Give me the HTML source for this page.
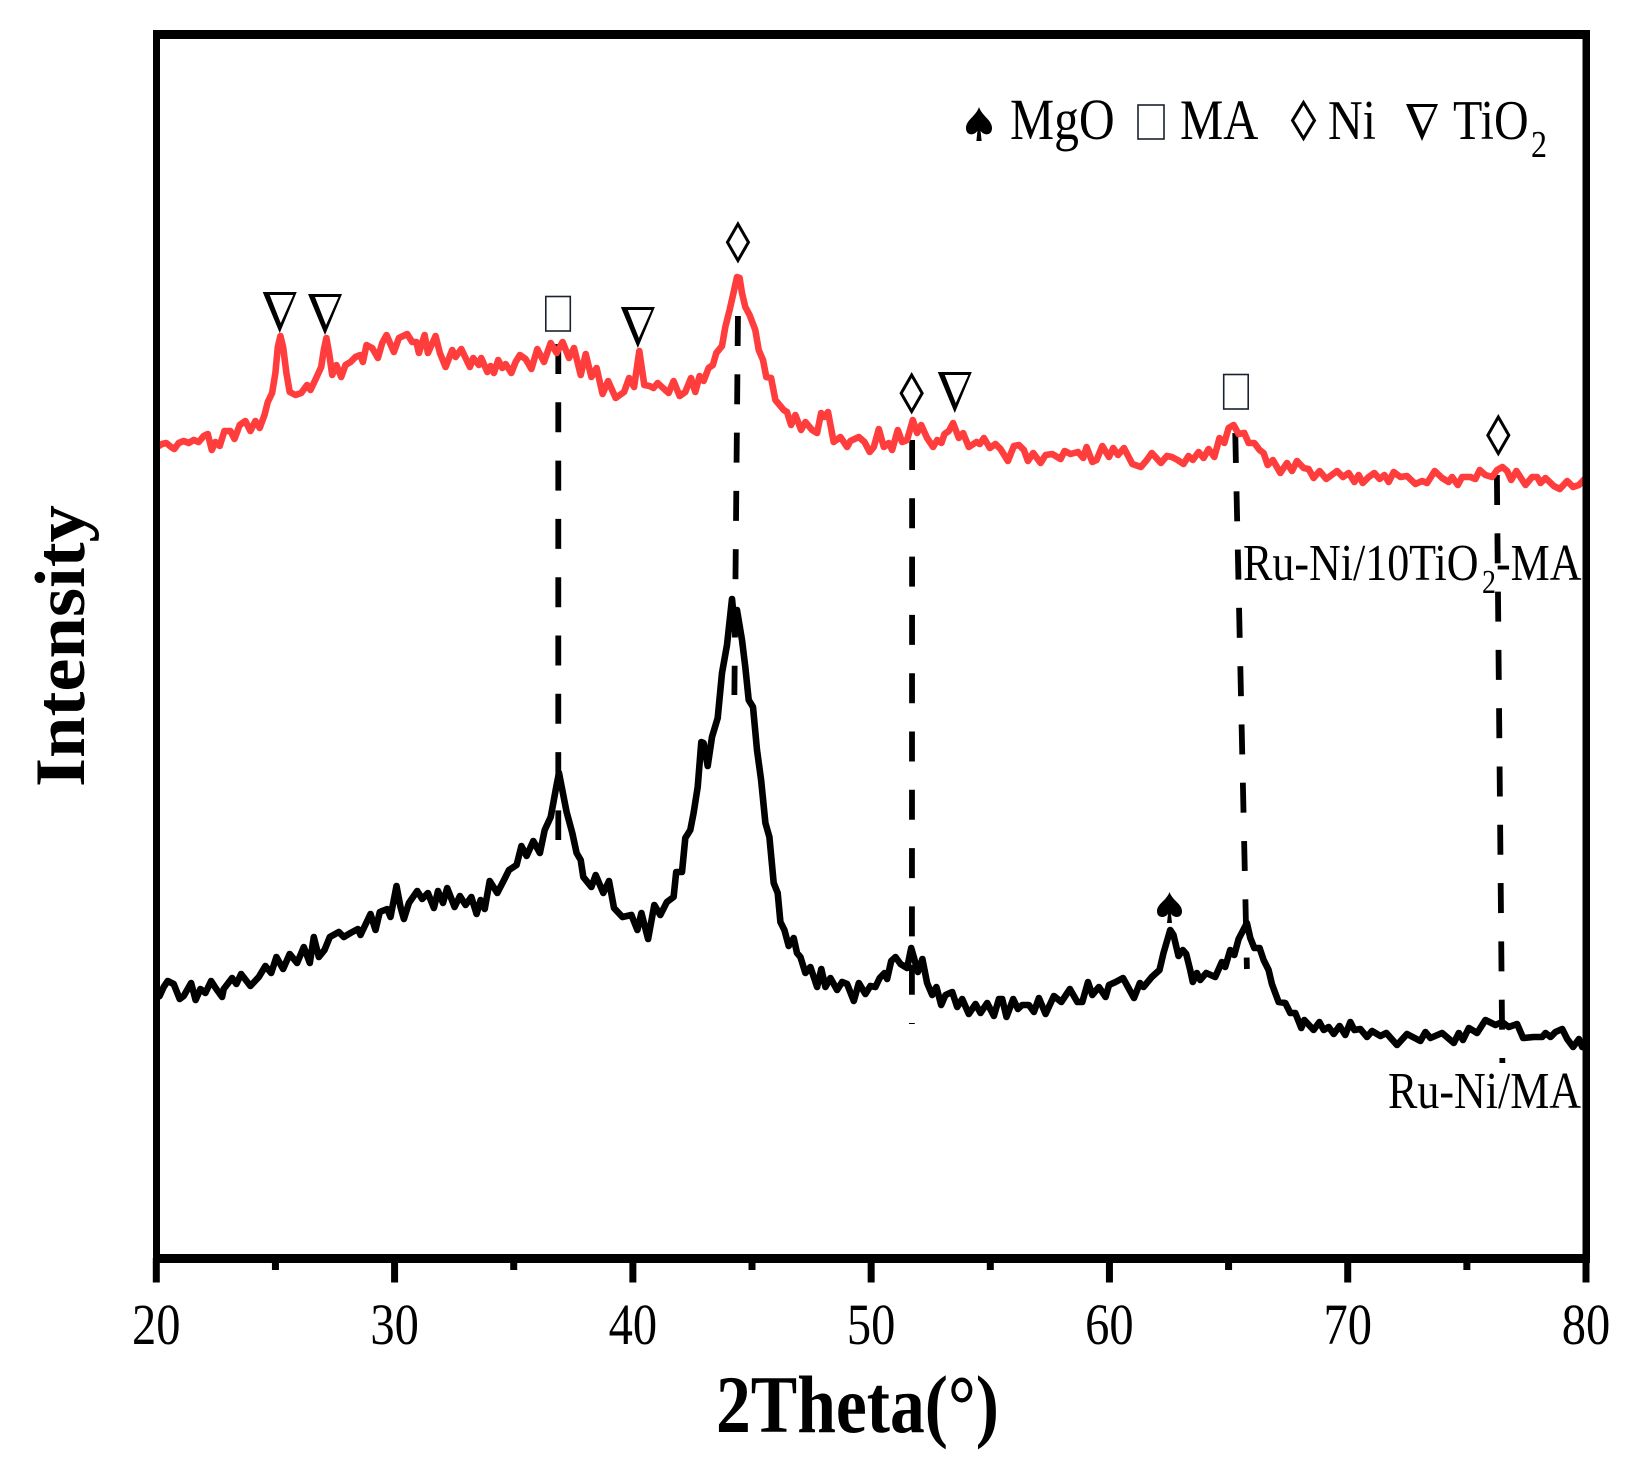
<!DOCTYPE html>
<html lang="en">
<head>
<meta charset="utf-8">
<title>XRD patterns of Ru-Ni/10TiO2-MA and Ru-Ni/MA</title>
<style>
html,body{margin:0;padding:0;background:#fff;}
svg{display:block;}
text{font-family:"Liberation Serif",serif;fill:#000;}
</style>
</head>
<body>
<svg id="chart" xmlns="http://www.w3.org/2000/svg" width="1641" height="1481" viewBox="0 0 1641 1481">
  <rect x="0" y="0" width="1641" height="1481" fill="#fff"/>
  <g id="peak-lines"></g>
  <g id="series"></g>
  <g id="markers"></g>
  <g id="frame">
    <rect x="153" y="30" width="1437" height="9" fill="#000"/>
    <rect x="153" y="30" width="7" height="1233" fill="#000"/>
    <rect x="1582.5" y="30" width="7.5" height="1233" fill="#000"/>
    <rect x="153" y="1254" width="1437" height="9" fill="#000"/>
  </g>
  <g id="ticks"></g>
  <g id="tick-labels"></g>

  <text transform="translate(716,1432) scale(1,1.17)" font-size="69.6" font-weight="bold">2Theta(°)</text>
  <text transform="translate(84,787) rotate(-90) scale(1,0.95)" font-size="74.6" font-weight="bold">Intensity</text>

  <g id="legend">
    <text transform="translate(1010,139) scale(1,1.17)" font-size="49.6">MgO</text>
    <text transform="translate(1180,139) scale(1,1.17)" font-size="48.6">MA</text>
    <text transform="translate(1328,139) scale(1,1.17)" font-size="48">Ni</text>
    <text transform="translate(1453,139) scale(1,1.17)" font-size="48">TiO</text>
    <text transform="translate(1531,157) scale(1,1.2)" font-size="32">2</text>
  </g>

  <g>
    <text transform="translate(1243,580) scale(1,1.17)" font-size="44">Ru-Ni/10TiO</text>
    <text transform="translate(1482,593) scale(1,1.2)" font-size="28">2</text>
    <text transform="translate(1496,580) scale(1,1.17)" font-size="44">-MA</text>
  </g>
  <text transform="translate(1388,1108) scale(1,1.17)" font-size="44">Ru-Ni/MA</text>
</svg>

<script>
// ---- data ----
const majorTickValues = [20, 30, 40, 50, 60, 70, 80];
const minorTickValues = [25, 35, 45, 55, 65, 75];

const redTheta = [20.00,20.03,20.24,20.42,20.62,20.76,20.94,21.15,21.36,21.57,21.78,21.99,22.16,22.33,22.48,22.66,22.86,23.11,23.28,23.50,23.74,23.95,24.16,24.34,24.54,24.68,24.86,25.00,25.10,25.21,25.32,25.46,25.60,25.84,26.08,26.33,26.47,26.71,26.92,27.03,27.14,27.25,27.38,27.56,27.76,27.94,28.15,28.36,28.57,28.67,28.82,29.06,29.30,29.48,29.66,29.97,30.18,30.53,30.74,30.91,31.02,31.26,31.40,31.72,31.90,32.14,32.42,32.56,32.80,33.16,33.30,33.54,33.64,33.89,34.03,34.17,34.35,34.52,34.66,34.90,35.08,35.26,35.50,35.74,35.99,36.27,36.55,36.80,37.05,37.32,37.53,37.81,38.02,38.26,38.48,38.73,38.96,39.28,39.63,39.84,40.05,40.27,40.48,40.70,40.87,41.04,41.22,41.50,41.71,41.96,42.20,42.44,42.62,42.80,42.97,43.18,43.36,43.50,43.74,43.88,44.06,44.23,44.37,44.48,44.58,44.72,44.90,45.14,45.28,45.46,45.60,45.80,45.98,46.33,46.47,46.64,46.82,47.06,47.24,47.52,47.73,47.90,48.04,48.19,48.43,48.71,48.99,49.13,49.48,49.72,49.94,50.11,50.32,50.53,50.74,50.88,51.12,51.30,51.51,51.75,51.93,52.10,52.35,52.60,52.77,52.95,53.08,53.26,53.44,53.68,53.86,54.10,54.42,54.56,54.73,54.98,55.22,55.43,55.74,55.99,56.20,56.41,56.58,56.80,57.11,57.32,57.60,57.95,58.12,58.37,58.68,58.90,59.04,59.28,59.46,59.70,59.98,60.16,60.36,60.61,60.96,61.32,61.57,61.78,62.16,62.41,62.62,62.86,63.11,63.32,63.50,63.74,63.95,64.16,64.40,64.62,64.82,65.00,65.21,65.42,65.66,65.84,66.08,66.30,66.47,66.64,66.86,67.17,67.45,67.66,67.87,68.15,68.36,68.57,68.82,69.10,69.55,69.80,70.04,70.28,70.46,70.63,70.88,71.12,71.34,71.54,71.72,71.93,72.21,72.49,72.84,73.12,73.33,73.65,73.96,74.24,74.38,74.62,74.80,75.15,75.36,75.54,75.78,76.06,76.27,76.49,76.69,76.86,77.08,77.46,77.74,77.95,78.09,78.30,78.65,78.90,79.21,79.46,79.70,79.94];
const redIntensity = [866,867,870,871,867,865,871,873,871,874,872,878,880,864,872,868,883,883,875,889,893,883,893,886,899,912,921,941,967,978,967,941,922,919,921,929,924,936,947,964,976,961,939,949,937,949,952,957,959,952,969,966,956,971,979,962,976,980,972,972,961,979,961,978,961,947,964,957,965,947,956,949,956,942,948,941,954,946,950,941,952,959,955,945,965,952,971,961,972,956,966,939,960,937,946,920,933,916,922,936,927,963,929,928,926,931,927,921,933,918,922,936,922,938,933,946,949,961,968,987,1004,1022,1037,1036,1021,1007,999,984,964,954,937,936,914,904,902,889,899,884,892,884,881,901,897,902,872,877,867,873,877,872,862,867,885,867,871,864,884,872,874,894,881,889,876,867,874,871,880,883,891,876,881,867,872,870,876,866,870,865,853,868,869,864,853,861,851,859,860,855,863,860,862,856,867,852,854,868,857,866,859,866,850,847,854,861,851,858,857,854,850,858,854,862,856,865,857,876,871,886,889,880,881,871,871,864,861,849,854,841,851,843,853,846,845,836,843,835,843,837,841,832,839,831,837,841,835,839,832,842,837,838,830,833,831,843,836,832,837,829,837,837,835,844,839,837,844,847,843,834,843,829,837,837,831,836,828,825,833,827,829,835];

const blackTheta = [20.00,20.14,20.31,20.48,20.73,20.98,21.15,21.46,21.65,21.85,22.06,22.30,22.52,22.76,22.83,23.18,23.36,23.56,23.95,24.30,24.58,24.82,25.04,25.32,25.60,25.91,26.19,26.44,26.61,26.82,27.06,27.28,27.66,27.87,28.15,28.46,28.57,28.99,29.20,29.38,29.69,29.83,30.08,30.25,30.39,30.60,30.95,31.16,31.40,31.65,31.82,32.03,32.21,32.52,32.74,32.98,33.22,33.44,33.61,33.78,33.99,34.31,34.59,34.80,35.12,35.32,35.54,35.82,36.10,36.30,36.55,36.66,36.80,36.90,37.04,37.22,37.46,37.64,37.81,37.92,38.26,38.44,38.76,39.00,39.21,39.56,39.94,40.19,40.36,40.64,40.90,41.15,41.43,41.71,41.82,42.06,42.20,42.41,42.55,42.72,42.87,42.97,43.14,43.32,43.56,43.74,43.95,44.16,44.30,44.37,44.58,44.72,44.86,45.04,45.21,45.38,45.56,45.73,45.91,46.08,46.19,46.36,46.54,46.75,46.89,47.03,47.24,47.45,47.73,47.91,48.08,48.29,48.57,48.78,48.99,49.27,49.48,49.76,49.97,50.18,50.36,50.56,50.67,50.84,51.02,51.23,51.51,51.68,51.79,51.96,52.15,52.35,52.56,52.74,52.94,53.12,53.40,53.61,53.82,54.10,54.38,54.59,54.87,55.15,55.36,55.50,55.68,55.96,56.16,56.34,56.62,56.83,57.04,57.32,57.67,57.98,58.34,58.65,58.86,59.10,59.28,59.56,59.84,59.98,60.26,60.57,61.03,61.28,61.43,61.78,62.10,62.27,62.55,62.69,62.90,63.08,63.22,63.39,63.50,63.67,63.81,64.06,64.44,64.72,64.86,65.07,65.24,65.42,65.77,65.91,66.08,66.30,66.47,66.68,66.82,67.10,67.38,67.59,67.80,68.05,68.18,68.57,68.81,68.99,69.20,69.41,69.66,69.90,70.11,70.28,70.53,70.81,71.02,71.37,71.62,72.07,72.49,73.05,73.26,73.47,73.96,74.45,74.66,74.84,75.08,75.43,75.78,76.20,76.48,76.76,77.11,77.36,77.81,78.16,78.30,78.51,78.72,79.00,79.21,79.46,79.70,79.84];
const blackIntensity = [316,318,327,333,330,315,318,331,314,325,321,333,325,317,325,336,330,340,328,337,348,341,357,345,360,351,367,351,377,357,364,377,382,377,381,385,379,400,384,402,405,397,428,407,395,411,423,415,421,406,423,411,426,407,418,409,417,400,414,405,433,421,434,444,449,468,458,473,461,484,497,511,529,541,524,502,481,461,454,437,427,439,421,433,406,397,399,384,401,375,409,399,412,417,442,442,476,484,501,527,572,571,548,577,596,641,669,715,681,704,674,647,614,607,564,534,491,477,431,421,392,384,368,376,361,357,341,347,327,345,327,336,324,332,330,313,331,320,328,327,336,341,335,353,357,350,346,366,357,342,355,331,319,327,309,319,322,307,315,300,310,301,311,298,315,315,297,315,305,309,309,302,316,300,318,312,325,312,312,332,319,327,317,329,332,336,316,331,327,337,344,361,384,379,358,364,360,344,332,341,334,341,337,352,347,364,359,375,391,376,366,366,354,344,330,312,311,301,301,286,294,284,292,284,287,280,288,279,292,284,285,277,283,278,281,269,280,273,282,276,281,271,281,274,286,281,294,289,292,287,290,276,277,277,281,277,282,285,275,267,275,267];

// guide lines: start/end 2-theta and start/end intensity
const guideThetaStart = [36.87, 44.41, 51.72, 65.28, 76.26];
const guideThetaEnd = [36.87, 44.26, 51.71, 65.77, 76.49];
const guideIntensityStart = [970, 998, 874, 881, 839];
const guideIntensityEnd = [474, 619, 290, 345, 251];

// phase markers: kind, 2-theta of centre, intensity of lower edge
const markerKinds = ['triangle','triangle','square','triangle','diamond','diamond','triangle','square','diamond','spade'];
const markerTheta = [25.18, 27.08, 36.86, 40.21, 44.41, 51.70, 53.51, 65.31, 76.32, 62.52];
const markerIntensity = [981, 979, 983, 966, 1052, 901, 901, 905, 859, 391];

// ---- scales ----
const X0 = 156.3, X1 = 1586, Y0 = 1258, Y1 = 34;
const domainX = [20, 80], domainY = [56, 1280];
function xScale(v) { return X0 + (v - domainX[0]) / (domainX[1] - domainX[0]) * (X1 - X0); }
function yScale(v) { return Y0 + (v - domainY[0]) / (domainY[1] - domainY[0]) * (Y1 - Y0); }

const NS = 'http://www.w3.org/2000/svg';
function make(tag, parentId) {
  const el = document.createElementNS(NS, tag);
  document.getElementById(parentId).appendChild(el);
  return el;
}
function linePath(xs, ys) {
  return xs.map(function (x, i) {
    return (i ? 'L' : 'M') + xScale(x).toFixed(1) + ' ' + yScale(ys[i]).toFixed(1);
  }).join('');
}

// guide lines
guideThetaStart.forEach(function (t, i) {
  const ln = make('line', 'peak-lines');
  
  
  ln.setAttribute('x1', xScale(t));
  ln.setAttribute('x2', xScale(guideThetaEnd[i]));
  ln.setAttribute('y1', yScale(guideIntensityStart[i]));
  ln.setAttribute('y2', yScale(guideIntensityEnd[i]));
  ln.setAttribute('stroke', '#000');
  ln.setAttribute('stroke-width', '5.8');
  ln.setAttribute('stroke-dasharray', '30 28.3');
});

// series
const redLine = make('path', 'series');


redLine.setAttribute('d', linePath(redTheta, redIntensity));
redLine.setAttribute('fill', 'none');
redLine.setAttribute('stroke', '#ff3d3d');
redLine.setAttribute('stroke-width', '6.6');
redLine.setAttribute('stroke-linejoin', 'round');
redLine.setAttribute('stroke-linecap', 'round');

const blackLine = make('path', 'series');


blackLine.setAttribute('d', linePath(blackTheta, blackIntensity));
blackLine.setAttribute('fill', 'none');
blackLine.setAttribute('stroke', '#000');
blackLine.setAttribute('stroke-width', '6.6');
blackLine.setAttribute('stroke-linejoin', 'round');
blackLine.setAttribute('stroke-linecap', 'round');

// ticks
majorTickValues.forEach(function (v) {
  const t = make('rect', 'ticks');
  
  
  t.setAttribute('x', xScale(v) - 3.5);
  t.setAttribute('y', 1258);
  t.setAttribute('width', 7);
  t.setAttribute('height', 24.5);
  t.setAttribute('fill', '#000');
  const lab = make('text', 'tick-labels');
  
  
  lab.setAttribute('transform', 'translate(' + xScale(v) + ',1344) scale(1,1.2)');
  lab.setAttribute('text-anchor', 'middle');
  lab.setAttribute('font-size', '48.5');
  lab.textContent = String(v);
});
minorTickValues.forEach(function (v) {
  const t = make('rect', 'ticks');
  
  
  t.setAttribute('x', xScale(v) - 3.5);
  t.setAttribute('y', 1258);
  t.setAttribute('width', 7);
  t.setAttribute('height', 12);
  t.setAttribute('fill', '#000');
});

// marker shapes
function drawMarker(parentId, kind, cx, bottom, w, h) {
  const top = bottom - h, l = cx - w / 2, r = cx + w / 2;
  if (kind === 'triangle') {
    const p = make('path', parentId);
    
    
    p.setAttribute('fill-rule', 'evenodd');
    p.setAttribute('fill', '#000');
    p.setAttribute('d', 'M' + l + ' ' + top + 'L' + r + ' ' + top + 'L' + cx + ' ' + bottom + 'Z' +
      'M' + (l + 7) + ' ' + (top + 3) + 'L' + (r - 3.5) + ' ' + (top + 3) + 'L' + (cx + 1) + ' ' + (bottom - 10) + 'Z');
  } else if (kind === 'square') {
    const s = make('rect', parentId);
    
    
    s.setAttribute('x', l);
    s.setAttribute('y', top);
    s.setAttribute('width', w);
    s.setAttribute('height', h);
    s.setAttribute('fill', '#fff');
    s.setAttribute('stroke', '#1a2230');
    s.setAttribute('stroke-width', '1.6');
  } else if (kind === 'diamond') {
    const d = make('polygon', parentId);
    
    
    d.setAttribute('points', cx + ',' + (top + 1.5) + ' ' + (r - 1) + ',' + (top + h / 2) + ' ' + cx + ',' + (bottom - 1.5) + ' ' + (l + 1) + ',' + (top + h / 2));
    d.setAttribute('fill', '#fff');
    d.setAttribute('stroke', '#000');
    d.setAttribute('stroke-width', '3');
  } else {
    const a = make('path', parentId);
    
    
    a.setAttribute('fill', '#000');
    const f = function (u, v) { return (cx + u * w / 2).toFixed(1) + ' ' + (top + v * h).toFixed(1); };
    a.setAttribute('d', 'M' + f(0, 0) +
      'C' + f(0.25, 0.28) + ' ' + f(1, 0.38) + ' ' + f(1, 0.62) +
      'C' + f(1, 0.85) + ' ' + f(0.35, 0.85) + ' ' + f(0.12, 0.7) +
      'L' + f(0.2, 1) + 'L' + f(-0.2, 1) + 'L' + f(-0.12, 0.7) +
      'C' + f(-0.35, 0.85) + ' ' + f(-1, 0.85) + ' ' + f(-1, 0.62) +
      'C' + f(-1, 0.38) + ' ' + f(-0.25, 0.28) + ' ' + f(0, 0) + 'Z');
  }
}
const markerW = { triangle: 34, square: 24.5, diamond: 23, spade: 25 };
const markerH = { triangle: 41, square: 34.5, diamond: 39.5, spade: 31 };
markerKinds.forEach(function (k, i) {
  drawMarker('markers', k, xScale(markerTheta[i]), yScale(markerIntensity[i]), markerW[k], markerH[k]);
});

// legend markers
drawMarker('legend', 'spade', 979, 141, 26, 34);
drawMarker('legend', 'square', 1151, 139, 26, 34);
drawMarker('legend', 'diamond', 1303.5, 140, 24, 39);
drawMarker('legend', 'triangle', 1422, 141, 32, 37);
</script>
</body>
</html>
